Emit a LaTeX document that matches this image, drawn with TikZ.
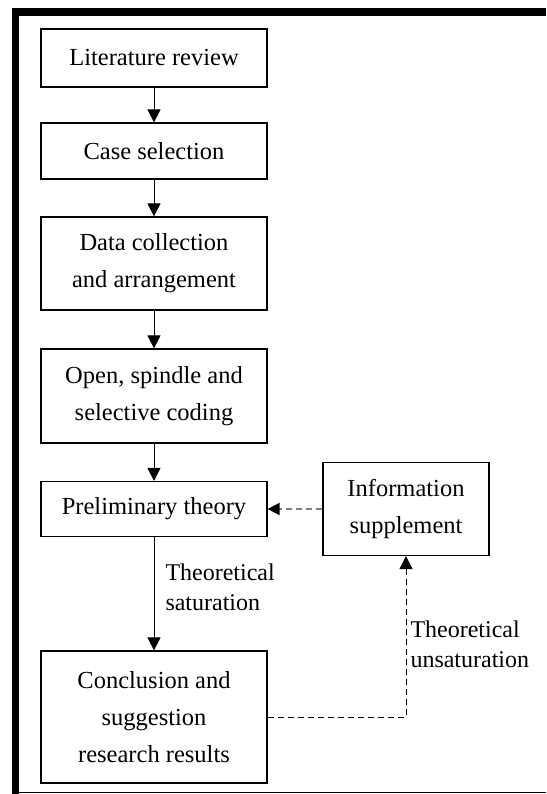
\documentclass[tikz,border=0pt]{standalone}
\usepackage{fontspec}
\setmainfont{Liberation Serif}
\usetikzlibrary{arrows.meta}
\begin{document}
\begin{tikzpicture}[x=1pt,y=-1pt,
  box/.style={draw, line width=1.2pt, minimum width=226pt, align=center, inner sep=0pt,
    font=\fontsize{24.5}{37}\selectfont},
  flow/.style={line width=1pt, -{Triangle[length=13pt,width=13pt]}},
  dflow/.style={line width=1pt, dash pattern=on 6pt off 4pt, -{Triangle[length=13pt,width=13pt]}},
  gflow/.style={line width=1.6pt, draw=black!50, dash pattern=on 6pt off 4pt,
    -{Triangle[length=12pt,width=12pt,color=black,fill=black]}},
  lbl/.style={align=left, inner sep=0pt, anchor=west, font=\fontsize{24}{30}\selectfont}
]
\useasboundingbox (0,0) rectangle (546,794);
% frame
\fill (12,8) rectangle (546,16);
\fill (12,8) rectangle (19,794);
\draw[line width=1.2pt] (19,792.5) -- (546,792.5);
% boxes
\node[box, minimum height=58pt] (lit) at (154,58) {Literature review};
\node[box, minimum height=56pt] (case) at (154,151) {Case selection};
\node[box, minimum height=93pt] (data) at (154,263.5) {Data collection\\and arrangement};
\node[box, minimum height=94pt] (open) at (154,396) {Open, spindle and\\selective coding};
\node[box, minimum height=55pt] (prelim) at (154,509) {Preliminary theory};
\node[box, minimum height=132pt] (concl) at (154,717) {Conclusion and\\suggestion\\research results};
\node[box, minimum width=166pt, minimum height=93pt] (info) at (406,509) {Information\\supplement};
% connectors
\draw[flow] (lit) -- (case);
\draw[flow] (case) -- (data);
\draw[flow] (data) -- (open);
\draw[flow] (open) -- (prelim);
\draw[flow] (prelim) -- node[lbl, pos=0.44, xshift=11pt] {Theoretical\\saturation} (concl);
\draw[gflow] (info.west) -- (prelim.east);
\draw[dflow] (concl.east) -| node[lbl, pos=0.725, xshift=4pt] {Theoretical\\unsaturation} (info.south);
\end{tikzpicture}
\end{document}
